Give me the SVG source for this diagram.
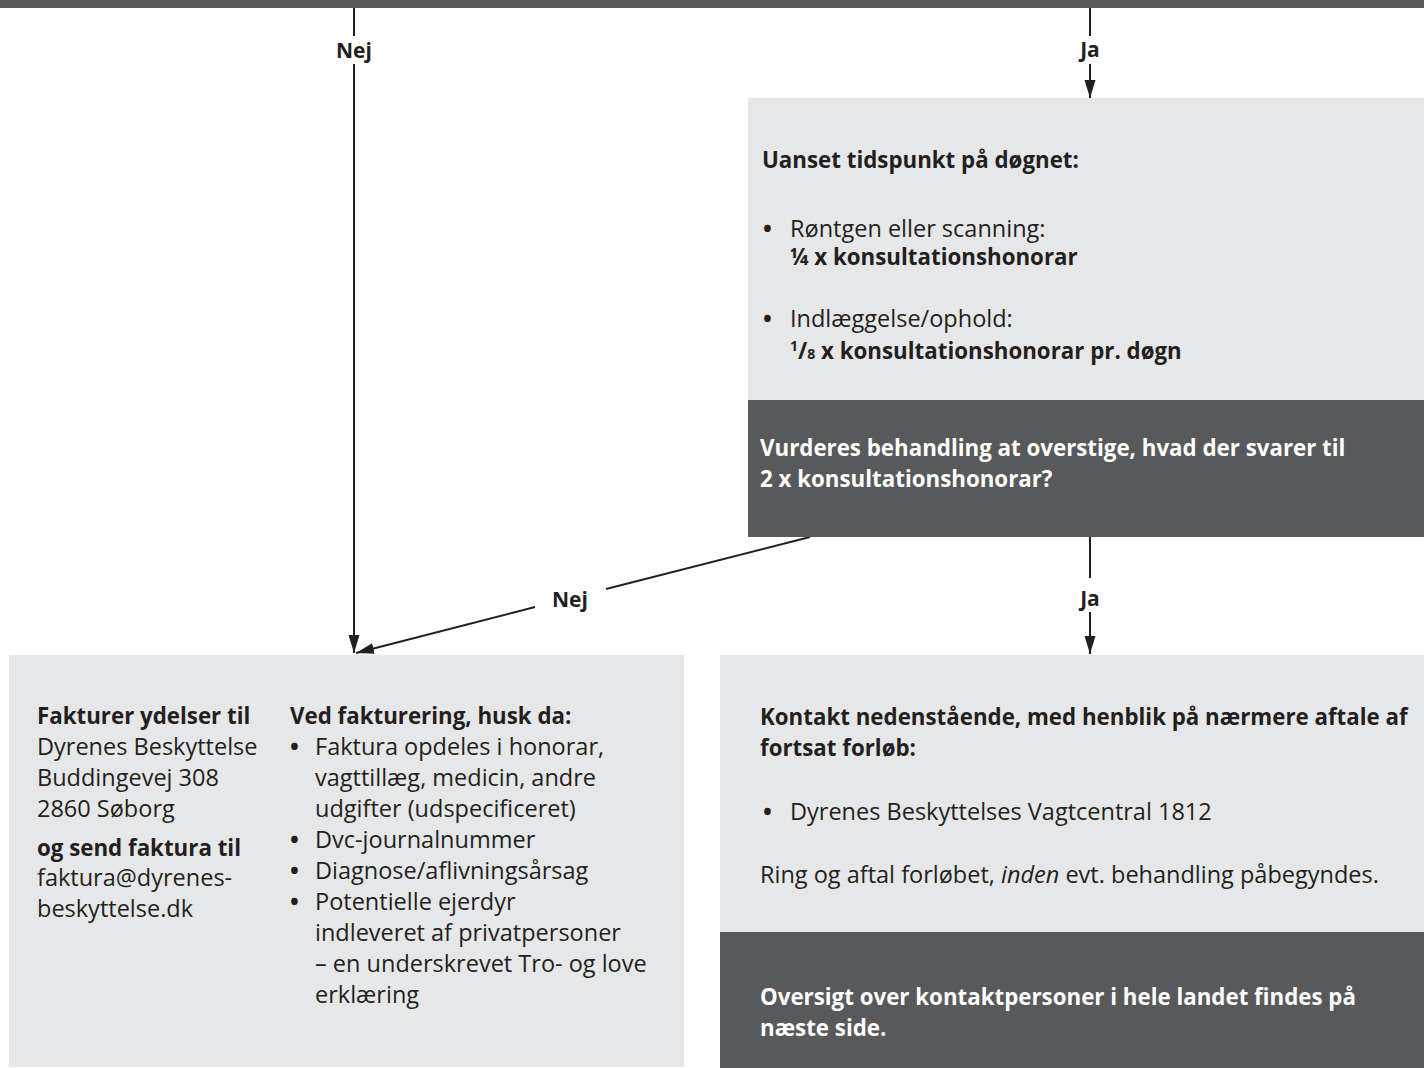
<svg xmlns="http://www.w3.org/2000/svg" width="1424" height="1068" viewBox="0 0 1424 1068">
<defs>
<style>
text{font-family:"Open Sans","Noto Sans",sans-serif;font-size:23.5px;fill:#231f20}
.b{font-weight:700;font-size:22.3px}
.w{fill:#ffffff;font-weight:700;font-size:22.3px}
.bu{font-weight:700}
.lbl{font-weight:700;font-size:21px;text-anchor:middle}
.light{fill:#e6e7e8}
.dark{fill:#58595b}
.ln{stroke:#231f20;stroke-width:2;fill:none}
</style>
<marker id="ahv" viewBox="0 0 18 12" refX="18" refY="6" markerWidth="18" markerHeight="12" markerUnits="userSpaceOnUse" orient="auto">
<path d="M0,0.5 L18,6 L0,11.5 z" fill="#231f20"/>
</marker>
</defs>
<rect x="0" y="0" width="1424" height="8" class="dark"/>
<g id="connectors">
<line class="ln" x1="354" y1="8" x2="354" y2="36"/>
<text class="lbl" x="354" y="58">Nej</text>
<line class="ln" x1="354" y1="64" x2="354" y2="653" marker-end="url(#ahv)"/>
<line class="ln" x1="1090" y1="8" x2="1090" y2="36"/>
<text class="lbl" x="1090" y="57">Ja</text>
<line class="ln" x1="1090" y1="64" x2="1090" y2="98" marker-end="url(#ahv)"/>
<line class="ln" x1="810" y1="537" x2="606" y2="589"/>
<text class="lbl" x="570" y="607">Nej</text>
<line class="ln" x1="535" y1="607" x2="356" y2="653" marker-end="url(#ahv)"/>
<line class="ln" x1="1090" y1="537" x2="1090" y2="578"/>
<text class="lbl" x="1090" y="606">Ja</text>
<line class="ln" x1="1090" y1="612" x2="1090" y2="654" marker-end="url(#ahv)"/>
</g>
<g id="node-uanset">
<rect x="748" y="98" width="676" height="302" class="light"/>
<text class="b" x="762" y="168">Uanset tidspunkt på døgnet:</text>
<text class="bu" x="763" y="237">•</text>
<text x="790" y="237">Røntgen eller scanning:</text>
<text class="b" x="790" y="265">¼ x konsultationshonorar</text>
<text class="bu" x="763" y="327">•</text>
<text x="790" y="327">Indlæggelse/ophold:</text>
<text class="b" x="790" y="359"><tspan font-size="14" dy="-8">1</tspan><tspan dy="8">/</tspan><tspan font-size="14">8</tspan> x konsultationshonorar pr. døgn</text>
</g>
<g id="node-vurderes">
<rect x="748" y="400" width="676" height="137" class="dark"/>
<text class="w" x="760" y="456">Vurderes behandling at overstige, hvad der svarer til</text>
<text class="w" x="760" y="487">2 x konsultationshonorar?</text>
</g>
<g id="node-faktura">
<rect x="9" y="655" width="675" height="412" class="light"/>
<text class="b" x="37" y="724">Fakturer ydelser til</text>
<text x="37" y="755">Dyrenes Beskyttelse</text>
<text x="37" y="786">Buddingevej 308</text>
<text x="37" y="817">2860 Søborg</text>
<text class="b" x="37" y="856">og send faktura til</text>
<text x="37" y="886">faktura@dyrenes-</text>
<text x="37" y="917">beskyttelse.dk</text>
<text class="b" x="290" y="724">Ved fakturering, husk da:</text>
<text class="bu" x="290" y="755">•</text>
<text x="315" y="755">Faktura opdeles i honorar,</text>
<text x="315" y="786">vagttillæg, medicin, andre</text>
<text x="315" y="817">udgifter (udspecificeret)</text>
<text class="bu" x="290" y="848">•</text>
<text x="315" y="848">Dvc-journalnummer</text>
<text class="bu" x="290" y="879">•</text>
<text x="315" y="879">Diagnose/aflivningsårsag</text>
<text class="bu" x="290" y="910">•</text>
<text x="315" y="910">Potentielle ejerdyr</text>
<text x="315" y="941">indleveret af privatpersoner</text>
<text x="315" y="972">– en underskrevet Tro- og love</text>
<text x="315" y="1003">erklæring</text>
</g>
<g id="node-kontakt">
<rect x="720" y="655" width="704" height="277" class="light"/>
<text class="b" x="760" y="725">Kontakt nedenstående, med henblik på nærmere aftale af</text>
<text class="b" x="760" y="756">fortsat forløb:</text>
<text class="bu" x="763" y="820">•</text>
<text x="790" y="820">Dyrenes Beskyttelses Vagtcentral 1812</text>
<text x="760" y="883">Ring og aftal forløbet, <tspan font-style="italic">inden</tspan> evt. behandling påbegyndes.</text>
</g>
<g id="node-oversigt">
<rect x="720" y="932" width="704" height="136" class="dark"/>
<text class="w" x="760" y="1005">Oversigt over kontaktpersoner i hele landet findes på</text>
<text class="w" x="760" y="1036">næste side.</text>
</g>
</svg>
